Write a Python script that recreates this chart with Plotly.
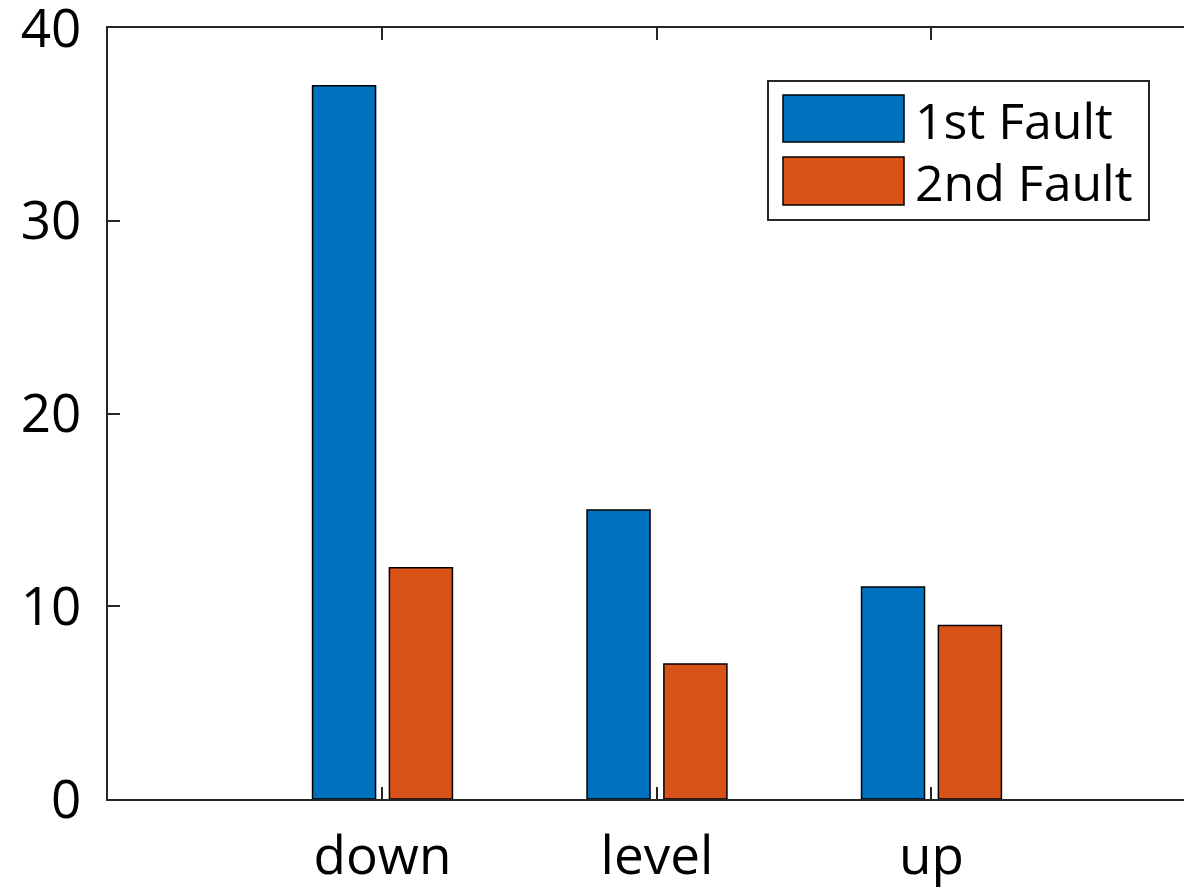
import plotly.graph_objects as go

categories = ["down", "level", "up"]
first_fault = [37, 15, 11]
second_fault = [12, 7, 9]
series_names = ["1st Fault", "2nd Fault"]
y_ticks = [0, 10, 20, 30, 40]

W, H = 1184, 891
L, R, T, B = 108, 0, 28, 891 - 799
colors = ["#0072BD", "#D95319"]
FONT = "Open Sans"

fig = go.Figure()
for name, vals, c in zip(series_names, [first_fault, second_fault], colors):
    fig.add_trace(go.Bar(x=categories, y=vals, name=name, marker_color=c,
                         marker_line=dict(color="#000000", width=1.5), showlegend=False))

pw, ph = W - L - R, H - T - B
def px(x):
    return (x - L) / pw
def py(y):
    return (H - B - y) / ph

shapes = []
annotations = []
# legend box
shapes.append(dict(type="rect", xref="paper", yref="paper", x0=px(768), x1=px(1149), y0=py(220), y1=py(81),
                   line=dict(color="#262626", width=2), fillcolor="white", layer="above"))
for i, (name, c) in enumerate(zip(series_names, colors)):
    y0, y1 = [(95, 142), (157, 205)][i]
    shapes.append(dict(type="rect", xref="paper", yref="paper", x0=px(783), x1=px(904), y0=py(y1), y1=py(y0),
                       line=dict(color="#000000", width=1.5), fillcolor=c, layer="above"))
    annotations.append(dict(xref="paper", yref="paper", x=px(913), y=py((y0 + y1) / 2 + 1), text=name,
                            showarrow=False, xanchor="left", yanchor="middle",
                            font=dict(family=FONT, size=50, color="#000000")))

fig.update_layout(
    width=W, height=H, margin=dict(l=L, r=R, t=T, b=B, autoexpand=False),
    paper_bgcolor="white", plot_bgcolor="white",
    barmode="group", bargap=0.44, bargroupgap=0.18,
    font=dict(family=FONT, size=52, color="#000000"),
    shapes=shapes, annotations=annotations,
    xaxis=dict(range=[-1, 2.92], showline=True, linecolor="#262626", linewidth=2, mirror="ticks",
               ticks="inside", ticklen=12, tickwidth=2, tickcolor="#262626", showgrid=False, zeroline=False,
               automargin=False, ticklabelstandoff=9, ticklabeloverflow="allow",
               tickfont=dict(family=FONT, size=53, color="#000000")),
    yaxis=dict(range=[0, 40], tickvals=y_ticks, showline=True, linecolor="#262626", linewidth=2,
               ticks="inside", ticklen=12, tickwidth=2, tickcolor="#262626", showgrid=False, zeroline=False,
               automargin=False, ticklabeloverflow="allow",
               tickfont=dict(family=FONT, size=53, color="#000000"), ticklabelstandoff=14),
)
fig.write_html("out.html", config={"displayModeBar": False},
               post_script="document.body.style.margin='0';document.documentElement.style.overflow='hidden';")
